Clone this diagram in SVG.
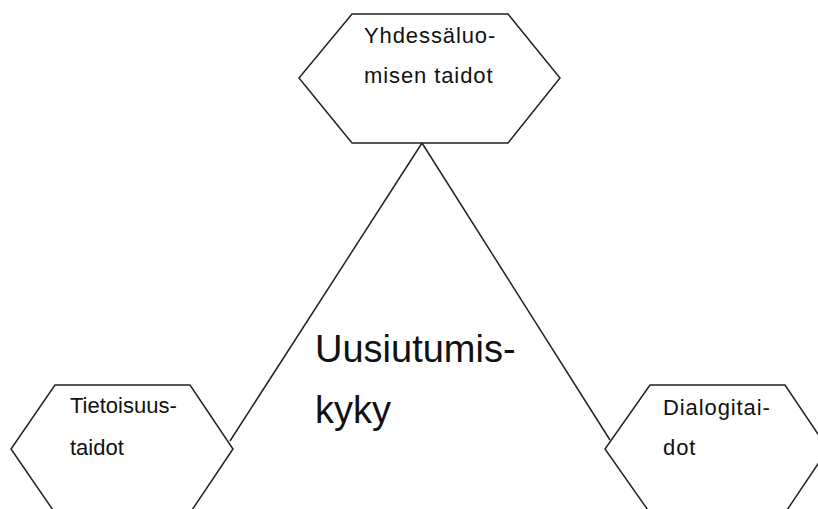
<svg xmlns="http://www.w3.org/2000/svg" width="818" height="509" viewBox="0 0 818 509">
  <style>
    .hex { fill: #ffffff; stroke: #222222; stroke-width: 1.5; }
    .link { fill: none; stroke: #222222; stroke-width: 1.5; }
    .lbl { font-family: "Liberation Sans", Arial, sans-serif; font-size: 22px; fill: #111111; }
    .wide { letter-spacing: 0.9px; }
    .big { font-family: "Liberation Sans", Arial, sans-serif; font-size: 38px; fill: #111111; }
  </style>
  <rect width="818" height="509" fill="#ffffff"/>
  <g id="connectors">
    <line class="link" x1="422" y1="143" x2="230" y2="441"/>
    <line class="link" x1="422" y1="143" x2="610" y2="440"/>
  </g>
  <g id="center">
    <text class="big" x="315" y="362">Uusiutumis-</text>
    <text class="big" x="315" y="423">kyky</text>
  </g>
  <g id="yhdessaluomisen">
    <polygon class="hex" points="352,14 508,14 560,78 508,143 352,143 299,78"/>
    <text class="lbl wide" x="364" y="43">Yhdessäluo-</text>
    <text class="lbl wide" x="364" y="83">misen taidot</text>
  </g>
  <g id="tietoisuus">
    <polygon class="hex" points="55,385 190,385 233,449 190,513 55,513 11,449"/>
    <text class="lbl" x="70" y="413">Tietoisuus-</text>
    <text class="lbl" x="70" y="455">taidot</text>
  </g>
  <g id="dialogi">
    <polygon class="hex" points="650,385 785,385 828,449 785,513 650,513 605,449"/>
    <text class="lbl wide" x="663" y="415">Dialogitai-</text>
    <text class="lbl wide" x="663" y="455">dot</text>
  </g>
</svg>
